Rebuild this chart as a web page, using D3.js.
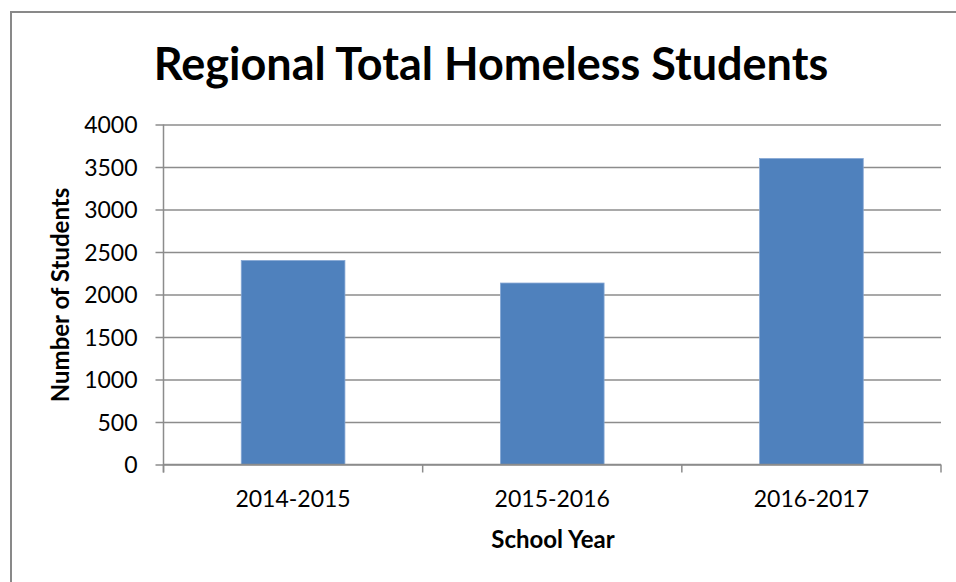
<!DOCTYPE html>
<html>
<head>
<meta charset="utf-8">
<script src="https://cdn.jsdelivr.net/npm/d3@7"></script>
<style>
  html, body { margin: 0; padding: 0; background: #fff; }
  svg { display: block; font-family: Lato, "Open Sans", sans-serif; }
</style>
</head>
<body>
<svg id="chart" width="956" height="582"></svg>
<script>
// Homeless student totals by school year
const categories = ["2014-2015", "2015-2016", "2016-2017"];
const students = [2400, 2135, 3600];
const yTicks = [0, 500, 1000, 1500, 2000, 2500, 3000, 3500, 4000];

const FONT = "Lato, 'Open Sans', sans-serif";
const svg = d3.select("#chart");
const margin = { left: 163.5, right: 15, top: 124.5, bottom: 117.5 };
const W = 956, H = 582;

// Outer chart frame
svg.append("path")
  .attr("d", `M11,${H + 5} V12 H${W + 5}`)
  .attr("fill", "none")
  .attr("stroke", "#898989")
  .attr("stroke-width", 2);

const x = d3.scaleBand()
  .domain(categories)
  .range([margin.left, W - margin.right])
  .paddingInner(0.6)
  .paddingOuter(0.3);

const y = d3.scaleLinear()
  .domain([0, 4000])
  .range([H - margin.bottom, margin.top]);

// Horizontal gridlines with left tick marks
const yAxis = d3.axisLeft(y)
  .tickValues(yTicks)
  .tickSize(-(W - margin.right - margin.left))
  .tickFormat(d3.format("d"));

const gy = svg.append("g")
  .attr("transform", `translate(${margin.left},0)`)
  .call(yAxis)
  .attr("font-family", FONT);
gy.select(".domain").remove();
gy.selectAll(".tick line")
  .attr("stroke", "#8c8c8c")
  .attr("stroke-width", 1.5)
  .attr("x1", -8);
gy.selectAll(".tick text")
  .attr("fill", "#000")
  .attr("font-size", 23)
  .attr("dy", "0.36em")
  .attr("x", -26);

// Bars
svg.append("g")
  .selectAll("rect")
  .data(categories.map((c, i) => ({ c, v: students[i] })))
  .join("rect")
  .attr("x", d => x(d.c))
  .attr("y", d => y(d.v))
  .attr("width", x.bandwidth())
  .attr("height", d => y(0) - y(d.v))
  .attr("fill", "#4f81bd")
  .attr("stroke", "#86a7d4")
  .attr("stroke-width", 0.8);

// Vertical axis line
svg.append("line")
  .attr("x1", margin.left).attr("x2", margin.left)
  .attr("y1", y(4000)).attr("y2", y(0) + 8)
  .attr("stroke", "#8c8c8c")
  .attr("stroke-width", 1.5);

// Category axis with boundary ticks
const step = x.step();
const bounds = d3.range(categories.length + 1).map(i => margin.left + i * step);
svg.append("line")
  .attr("x1", margin.left).attr("x2", W - margin.right)
  .attr("y1", y(0)).attr("y2", y(0))
  .attr("stroke", "#8c8c8c")
  .attr("stroke-width", 1.5);
svg.append("g").selectAll("line")
  .data(bounds)
  .join("line")
  .attr("x1", d => d).attr("x2", d => d)
  .attr("y1", y(0)).attr("y2", y(0) + 8)
  .attr("stroke", "#8c8c8c")
  .attr("stroke-width", 1.5);

svg.append("g").selectAll("text")
  .data(categories)
  .join("text")
  .attr("x", d => x(d) + x.bandwidth() / 2)
  .attr("y", 507)
  .attr("text-anchor", "middle")
  .attr("font-size", 23)
  .attr("fill", "#000")
  .text(d => d);

// Titles
svg.append("text")
  .attr("x", 491)
  .attr("y", 80)
  .attr("text-anchor", "middle")
  .attr("font-size", 45)
  .attr("font-weight", "bold")
  .attr("fill", "#000")
  .text("Regional Total Homeless Students");

svg.append("text")
  .attr("x", 553)
  .attr("y", 548)
  .attr("text-anchor", "middle")
  .attr("font-size", 24)
  .attr("font-weight", "bold")
  .attr("fill", "#000")
  .text("School Year");

svg.append("text")
  .attr("transform", "translate(69,295) rotate(-90)")
  .attr("text-anchor", "middle")
  .attr("font-size", 24)
  .attr("font-weight", "bold")
  .attr("fill", "#000")
  .text("Number of Students");
</script>
</body>
</html>
